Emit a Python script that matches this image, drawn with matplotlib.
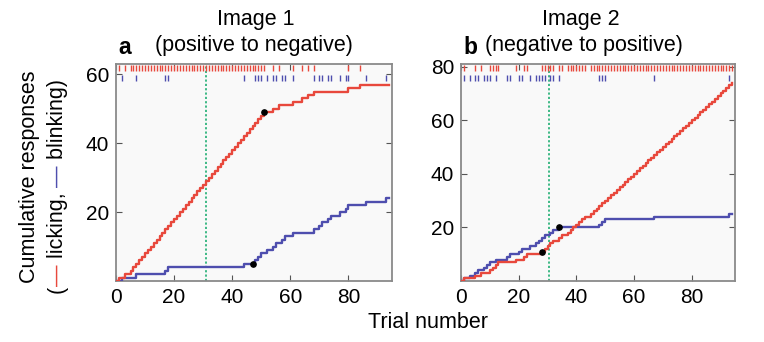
import numpy as np
import matplotlib
matplotlib.use("Agg")
import matplotlib.pyplot as plt

plt.rcParams['font.family'] = ['Liberation Sans', 'DejaVu Sans']

# Trials on which each response occurred
n_trials = 94
lick_a = [1, 3, 5, 6, 7, 8, 9, 10, 11, 12, 13, 14, 15, 16, 17, 18, 19, 20, 21, 22,
          23, 24, 25, 26, 27, 28, 29, 30, 31, 32, 33, 34, 35, 36, 37, 38, 39, 40,
          41, 42, 43, 44, 45, 46, 47, 48, 49, 50, 51, 54, 56, 61, 64, 66, 68, 80, 84]
blink_a = [2, 7, 17, 18, 44, 48, 49, 50, 52, 54, 55, 57, 58, 61, 68, 70, 71, 73,
           74, 77, 79, 80, 86, 93]
lick_b = [1, 5, 7, 10, 11, 12, 13, 19, 22, 23, 28, 29, 30, 31, 32, 34, 35, 37, 38,
          39, 40, 41, 42, 43, 45, 46, 47, 48, 49, 50, 51, 52, 53, 54, 55, 56, 57, 58,
          59, 60, 61, 62, 63, 64, 65, 66, 67, 68, 69, 70, 71, 72, 73, 74, 75, 76, 77,
          78, 79, 80, 81, 82, 83, 84, 85, 86, 87, 88, 89, 90, 91, 92, 93, 94]
blink_b = [1, 3, 5, 6, 8, 9, 10, 12, 16, 17, 20, 21, 24, 26, 27, 28, 29, 31, 32, 34,
           48, 49, 50, 67, 93]

# Switch trial (reversal) and marked trials
switch_a = 31
switch_b = 30.5
mark_lick_a, mark_blink_a = 51, 47
mark_lick_b, mark_blink_b = 28, 34

titles = ["Image 1\n(positive to negative)", "Image 2\n(negative to positive)"]
panel_letters = ["a", "b"]
xticks = [0, 20, 40, 60, 80]
yticks_a = [20, 40, 60]
yticks_b = [20, 40, 60, 80]
ylim_a = 63
ylim_b = 81

RED = '#e8483c'
BLUE = '#4e4eae'
GREEN = '#2fb47c'
FS = 15.5


def cumulative(events):
    trials = np.arange(0, n_trials + 1)
    counts = np.array([np.sum(np.asarray(events) <= t) for t in trials])
    return trials, counts


fig = plt.figure(figsize=(7.64, 3.42), dpi=100)
W, H = 764, 342
ax_a = fig.add_axes([116 / W, 1 - 281 / H, (392 - 116) / W, (281 - 64) / H])
ax_b = fig.add_axes([461 / W, 1 - 281 / H, (735 - 461) / W, (281 - 64) / H])

panels = [
    (ax_a, lick_a, blink_a, switch_a, mark_lick_a, mark_blink_a, ylim_a, yticks_a),
    (ax_b, lick_b, blink_b, switch_b, mark_lick_b, mark_blink_b, ylim_b, yticks_b),
]

for ax, lick, blink, sw, ml, mb, ylim, yt in panels:
    ax.set_facecolor('#f9f9f9')
    tl, cl = cumulative(lick)
    tb, cb = cumulative(blink)
    ax.step(tb, cb, where='post', color=BLUE, lw=1.7, zorder=3)
    ax.step(tl, cl, where='post', color=RED, lw=1.7, zorder=4)
    ax.axvline(sw, color=GREEN, lw=1.3, ls=(0, (1.2, 1.2)), zorder=2)
    # response rasters along the top edge
    trans = ax.get_xaxis_transform()
    ax.vlines(lick, 0.970, 0.995, transform=trans, color=RED, lw=1.0, zorder=5)
    ax.vlines(blink, 0.92, 0.95, transform=trans, color=BLUE, lw=1.0, zorder=5)
    # marked trials
    ax.plot([ml], [cl[ml]], 'o', color='black', ms=3.8, zorder=6)
    ax.plot([mb], [cb[mb]], 'o', color='black', ms=3.8, zorder=6)

    ax.set_xlim(0, 95)
    ax.set_ylim(0, ylim)
    ax.set_xticks(xticks)
    ax.set_yticks(yt)
    ax.tick_params(direction='in', top=True, right=True, length=4, width=0.8,
                   color='#555555', labelsize=15, pad=5)
    for s in ax.spines.values():
        s.set_color('#8a8a8a')
        s.set_linewidth(1.3)

title_x = [256 / W, 581 / W]
subtitle_x = [254 / W, 584 / W]
for ax, title, letter, tx, sx in zip([ax_a, ax_b], titles, panel_letters,
                                     title_x, subtitle_x):
    bb = ax.get_position()
    line1, line2 = title.split("\n")
    fig.text(tx, 1 - 19 / H, line1, ha='center', va='center', fontsize=FS)
    fig.text(sx, 1 - 46 / H, line2, ha='center', va='center', fontsize=FS)
    fig.text(bb.x0 + 2 / W, 1 - 47 / H, letter, ha='left', va='center',
             fontsize=FS + 1, fontweight='bold')

fig.text(428 / W, 1 - 322 / H, "Trial number", ha='center', va='center', fontsize=FS)

# y-axis label, first line
fig.text(30 / W, 1 - 177 / H, "Cumulative responses", rotation=90,
         ha='center', va='center', fontsize=FS)

# y-axis label, second line built from coloured pieces
renderer = fig.canvas.get_renderer()
pieces = [("(", 'black'), ("\u2014", RED), (" licking, ", 'black'),
          ("\u2014", BLUE), (" blinking)", 'black')]
y_pix = 49.0
x_frac = 57 / W
for txt, col in pieces:
    t = fig.text(x_frac, y_pix / H, txt, rotation=90, rotation_mode='anchor',
                 ha='left', va='center', fontsize=FS, color=col)
    ext = t.get_window_extent(renderer=renderer)
    y_pix = ext.y1

fig.savefig("out.png", dpi=100)
